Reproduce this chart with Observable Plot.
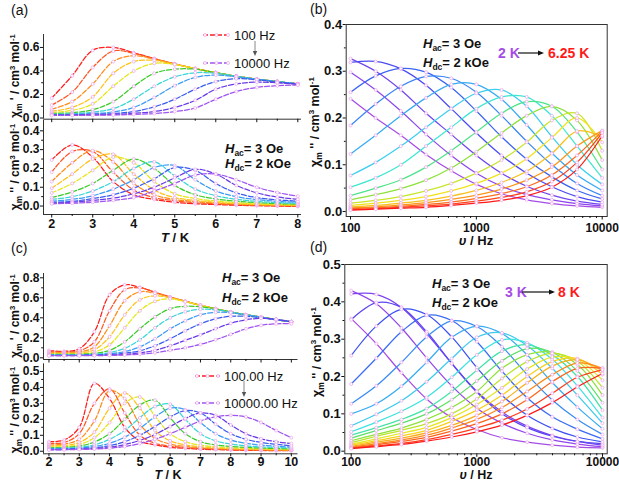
<!DOCTYPE html>
<html><head><meta charset="utf-8">
<script src="https://cdn.jsdelivr.net/npm/d3@7"></script>
<script src="https://cdn.jsdelivr.net/npm/@observablehq/plot@0.6"></script>
<style>
body{margin:0;background:#fff;}
#fig{position:relative;width:619px;height:482px;overflow:hidden;background:#fff;font-family:"Liberation Sans",Arial,sans-serif;}
#fig > div{position:absolute;}
</style></head><body><div id="fig"></div>
<script>
// ---------- DATA ----------
// (a) temperature grid (K) and frequency series
const aT = [2,2.5,3,3.5,4,4.5,5,5.5,6,6.5,7,7.5,8];
const aFreq = ["100 Hz","158 Hz","251 Hz","398 Hz","631 Hz","1000 Hz","1585 Hz","2512 Hz","3981 Hz","6310 Hz","10000 Hz"];
const aChiP = [
 [.17,.36,.575,.60,.555,.505,.46,.42,.385,.355,.33,.31,.29],
 [.11,.22,.43,.57,.55,.505,.46,.42,.385,.355,.33,.31,.29],
 [.075,.14,.29,.48,.53,.50,.46,.42,.385,.355,.33,.31,.29],
 [.058,.09,.18,.38,.48,.49,.455,.42,.385,.355,.33,.31,.29],
 [.047,.065,.12,.27,.40,.465,.455,.42,.385,.355,.33,.31,.29],
 [.038,.045,.07,.14,.27,.38,.415,.415,.385,.355,.33,.31,.29],
 [.032,.036,.05,.08,.16,.27,.35,.385,.38,.355,.33,.31,.29],
 [.028,.031,.038,.052,.09,.175,.275,.345,.365,.35,.33,.31,.29],
 [.026,.027,.032,.038,.055,.095,.16,.245,.31,.335,.325,.305,.29],
 [.024,.025,.027,.031,.04,.055,.09,.15,.245,.29,.305,.30,.285],
 [.022,.023,.024,.026,.03,.038,.055,.085,.16,.225,.26,.275,.28]
];
const aChiPP = [
 [.245,.325,.26,.13,.06,.035,.02,.012,.008,.004,.002,0,-.002],
 [.18,.29,.29,.18,.085,.045,.028,.018,.012,.007,.004,.002,0],
 [.13,.23,.295,.235,.12,.06,.035,.024,.016,.01,.006,.004,.002],
 [.095,.17,.25,.275,.17,.085,.045,.03,.02,.013,.009,.006,.004],
 [.07,.12,.19,.26,.23,.13,.065,.04,.027,.018,.012,.009,.006],
 [.045,.075,.12,.19,.25,.20,.11,.06,.038,.026,.018,.013,.01],
 [.035,.05,.08,.13,.20,.235,.16,.09,.055,.036,.025,.018,.014],
 [.026,.035,.055,.09,.14,.205,.215,.14,.08,.05,.034,.025,.02],
 [.02,.025,.04,.06,.095,.145,.205,.19,.12,.07,.045,.033,.026],
 [.015,.02,.03,.042,.065,.10,.15,.195,.17,.11,.07,.048,.036],
 [.012,.015,.02,.03,.045,.08,.12,.165,.17,.14,.10,.072,.052]
];
// (c) temperature grid (K) and frequency series
const cT = [2,2.5,3,3.5,4,4.5,5,5.5,6,6.5,7,7.5,8,8.5,9,9.5,10];
const cFreq = ["100.00 Hz","158 Hz","251 Hz","398 Hz","631 Hz","1000 Hz","1585 Hz","2512 Hz","3981 Hz","6310 Hz","10000.00 Hz"];
const cChiP = [
 [.073,.065,.09,.26,.63,.73,.705,.655,.607,.565,.525,.49,.458,.43,.407,.382,.36],
 [.062,.058,.07,.16,.47,.68,.70,.655,.607,.565,.525,.49,.458,.43,.407,.382,.36],
 [.052,.05,.057,.11,.32,.57,.66,.645,.605,.565,.525,.49,.458,.43,.407,.382,.36],
 [.045,.044,.048,.08,.21,.43,.58,.62,.60,.562,.525,.49,.458,.43,.407,.382,.36],
 [.04,.039,.042,.058,.13,.30,.47,.565,.59,.56,.525,.49,.458,.43,.407,.382,.36],
 [.035,.034,.036,.045,.075,.16,.29,.41,.49,.515,.51,.49,.458,.43,.407,.382,.36],
 [.03,.03,.031,.036,.052,.095,.18,.30,.40,.46,.485,.48,.458,.43,.407,.382,.36],
 [.027,.027,.028,.031,.04,.062,.11,.19,.29,.37,.43,.455,.45,.43,.407,.382,.36],
 [.025,.025,.025,.027,.032,.045,.07,.12,.19,.27,.34,.39,.415,.415,.40,.38,.36],
 [.023,.023,.023,.024,.027,.034,.05,.075,.12,.175,.23,.29,.345,.38,.395,.385,.36],
 [.021,.021,.021,.022,.024,.028,.036,.05,.075,.1,.135,.18,.235,.29,.325,.34,.34]
];
const cChiPP = [
 [.06,.07,.15,.425,.33,.15,.065,.04,.025,.018,.013,.01,.008,.006,.005,.004,.003],
 [.05,.055,.11,.30,.39,.24,.10,.05,.032,.023,.017,.013,.01,.008,.007,.006,.005],
 [.04,.045,.075,.19,.38,.33,.17,.08,.045,.03,.022,.017,.013,.011,.009,.008,.007],
 [.033,.036,.055,.12,.27,.365,.27,.13,.065,.04,.028,.021,.017,.014,.012,.01,.009],
 [.027,.029,.042,.085,.18,.30,.34,.22,.11,.06,.038,.028,.022,.018,.015,.013,.011],
 [.022,.024,.032,.058,.11,.2,.29,.32,.21,.11,.06,.04,.03,.024,.02,.017,.015],
 [.018,.02,.025,.04,.075,.13,.21,.28,.295,.2,.11,.065,.045,.034,.027,.023,.02],
 [.015,.016,.02,.03,.05,.088,.145,.215,.27,.26,.18,.11,.07,.05,.038,.031,.026],
 [.012,.013,.016,.022,.035,.06,.1,.155,.215,.255,.24,.17,.11,.075,.055,.043,.035],
 [.01,.011,.013,.017,.025,.042,.068,.105,.155,.205,.24,.225,.165,.11,.078,.06,.048],
 [.008,.009,.011,.014,.019,.03,.048,.075,.11,.15,.19,.215,.225,.215,.18,.13,.085]
];
// (b) frequency grid (Hz), temperatures 2 K -> 6.25 K
const bF = [100,158.5,251.2,398.1,631,1000,1585,2512,3981,6310,10000];
const bTemp = ["2 K","2.25 K","2.5 K","2.75 K","3 K","3.25 K","3.5 K","3.75 K","4 K","4.25 K","4.5 K","4.75 K","5 K","5.25 K","5.5 K","5.75 K","6 K","6.25 K"];
const bChiPP = [
 [.241,.2,.163,.122,.087,.058,.038,.025,.017,.012,.009],
 [.298,.26,.215,.165,.12,.082,.054,.036,.025,.017,.012],
 [.327,.30,.26,.21,.165,.12,.082,.054,.035,.022,.015],
 [.319,.321,.305,.27,.22,.168,.12,.082,.053,.032,.02],
 [.255,.29,.306,.298,.265,.215,.16,.112,.074,.045,.027],
 [.184,.23,.268,.289,.285,.255,.205,.15,.1,.06,.034],
 [.123,.163,.205,.243,.272,.272,.24,.185,.125,.078,.045],
 [.077,.105,.14,.18,.22,.253,.26,.225,.16,.1,.058],
 [.052,.072,.1,.14,.18,.22,.245,.245,.205,.14,.072],
 [.034,.05,.068,.095,.13,.17,.21,.235,.225,.17,.09],
 [.025,.036,.049,.067,.093,.128,.168,.205,.225,.195,.11],
 [.018,.024,.032,.044,.06,.082,.11,.148,.195,.21,.13],
 [.013,.018,.024,.032,.044,.06,.082,.113,.158,.2,.148],
 [.01,.013,.018,.024,.033,.045,.062,.086,.124,.172,.16],
 [.008,.01,.014,.019,.026,.035,.048,.067,.095,.14,.173],
 [.006,.008,.011,.015,.02,.028,.038,.053,.078,.12,.172],
 [.004,.006,.009,.012,.016,.022,.03,.042,.064,.105,.168],
 [.003,.005,.007,.009,.013,.018,.024,.034,.052,.09,.162]
];
// (d) frequency grid (Hz), temperatures 3 K -> 8 K
const dF = [100,158.5,251.2,398.1,631,1000,1585,2512,3981,6310,10000];
const dTemp = ["3 K","3.25 K","3.5 K","3.75 K","4 K","4.25 K","4.5 K","4.75 K","5 K","5.25 K","5.5 K","5.75 K","6 K","6.25 K","6.5 K","6.75 K","7 K","7.25 K","7.5 K","7.75 K","8 K"];
const dChiPP = [
 [.355,.288,.21,.14,.09,.058,.036,.024,.016,.011,.009],
 [.43,.395,.33,.25,.175,.115,.075,.048,.03,.019,.012],
 [.421,.42,.385,.315,.235,.16,.105,.067,.042,.026,.016],
 [.352,.398,.385,.32,.235,.158,.1,.063,.04,.026,.02],
 [.256,.335,.38,.366,.306,.224,.15,.096,.061,.038,.025],
 [.18,.249,.32,.364,.35,.293,.214,.143,.092,.059,.033],
 [.127,.175,.238,.306,.349,.334,.28,.205,.137,.085,.045],
 [.1,.127,.174,.238,.305,.335,.315,.258,.184,.118,.06],
 [.068,.099,.135,.186,.248,.305,.317,.283,.222,.15,.075],
 [.052,.078,.107,.144,.198,.258,.298,.29,.246,.175,.09],
 [.043,.063,.085,.114,.16,.217,.268,.285,.258,.2,.11],
 [.035,.055,.075,.1,.138,.188,.242,.275,.265,.215,.13],
 [.028,.045,.062,.085,.117,.16,.222,.258,.265,.232,.15],
 [.023,.04,.056,.074,.1,.14,.195,.24,.262,.241,.17],
 [.019,.033,.048,.064,.09,.125,.17,.22,.252,.245,.19],
 [.016,.028,.041,.056,.08,.11,.15,.2,.24,.248,.205],
 [.013,.024,.035,.049,.069,.096,.133,.183,.228,.245,.215],
 [.011,.02,.03,.043,.062,.085,.117,.16,.205,.236,.222],
 [.009,.017,.026,.037,.054,.074,.1,.138,.186,.222,.222],
 [.008,.014,.021,.031,.045,.062,.083,.113,.155,.198,.218],
 [.007,.012,.018,.027,.038,.052,.07,.096,.13,.172,.208]
];
// tick values
const aTTicks = [2,3,4,5,6,7,8], aTMinor = [2.5,3.5,4.5,5.5,6.5,7.5];
const cTTicks = [2,3,4,5,6,7,8,9,10], cTMinor = [2.5,3.5,4.5,5.5,6.5,7.5,8.5,9.5];
const fTicks = [100,1000,10000], fMinor = [200,300,400,500,600,700,800,900,2000,3000,4000,5000,6000,7000,8000,9000];

// ---------- STYLE ----------
const pal11 = ["#ff1c1c","#ff5522","#ff8c1a","#ffc21a","#e6e61a","#3ccc2a","#3ad6d6","#3a9cf5","#3a5cf0","#6a3ce8","#a054f0"];
const pal18 = ["#a64ce6","#8d47ec","#7044f0","#4a4cf2","#3a64f2","#3a86f4","#38aaf2","#3ccfee","#3ee6d2","#50e48a","#8ee23a","#c8e62a","#f2e21e","#f8c01c","#fa981c","#fc6e1e","#fd441e","#ff1a1a"];
const pal21 = ["#a64ce6","#9448ea","#7c44ee","#5a46f2","#3c52f2","#3a6cf4","#3a8cf4","#38acf2","#3ccaee","#3ee2e0","#44e4a8","#5ce064","#8ee23a","#bce42c","#e6e622","#f8d01c","#faae1c","#fb8a1c","#fc641e","#fd3e1e","#ff1a1a"];
const AX = "#333", MARK = "#eaa2ea", FONT = "'Liberation Sans', Arial, sans-serif";

function rows(xs, matrix, names) {
  return matrix.flatMap((vals, i) => vals.map((v, j) => ({x: xs[j], y: v, s: names[i]})));
}

const fig = document.getElementById("fig");

function panel(o) {
  const marks = [];
  if (o.box) marks.push(Plot.frame({stroke: AX, strokeWidth: 1}));
  else {
    marks.push(Plot.ruleX([o.xDomain[0]], {stroke: AX, strokeWidth: 1}));
    marks.push(Plot.ruleY([o.yDomain[0]], {stroke: AX, strokeWidth: 1}));
  }
  marks.push(Plot.line(o.data, {x: "x", y: "y", z: "s", stroke: "s", strokeWidth: 1.25, curve: "catmull-rom", strokeDasharray: o.dash, clip: true}));
  marks.push(Plot.dot(o.data, {x: "x", y: "y", r: 1.5, fill: "white", stroke: MARK, strokeWidth: 0.7, clip: true}));
  marks.push(Plot.axisY({ticks: o.yTicks, tickFormat: d3.format(".1f"), tickSize: 3, tickPadding: 1, fontSize: o.yFs, fontWeight: "bold", label: null}));
  marks.push(Plot.axisY({ticks: o.yMinor, tickFormat: () => "", tickSize: 1.8, label: null}));
  marks.push(Plot.axisX({ticks: o.xTicks, tickFormat: o.xLabels ? (d => String(d)) : (() => ""), tickSize: o.xTick ?? 3.5, tickPadding: o.xPad ?? 2, fontSize: o.xFs, fontWeight: "bold", label: null}));
  marks.push(Plot.axisX({ticks: o.xMinor, tickFormat: () => "", tickSize: 2, label: null}));
  const svg = Plot.plot({
    width: o.w, height: o.h,
    marginLeft: o.m[0], marginRight: o.m[1], marginTop: o.m[2], marginBottom: o.m[3],
    x: {type: o.xType || "linear", domain: o.xDomain, axis: null},
    y: {domain: o.yDomain, axis: null},
    color: {type: "ordinal", domain: o.names, range: o.colors},
    style: {background: "transparent", overflow: "visible", fontFamily: FONT, color: "#111"},
    marks
  });
  const div = document.createElement("div");
  div.style.left = o.left + "px"; div.style.top = o.top + "px";
  div.appendChild(svg);
  fig.appendChild(div);
}

// (a)
panel({left: 0, top: 0, w: 305, h: 122, m: [43, 4, 34, 3.3], xDomain: [1.8, 8.09], yDomain: [-0.01, 0.71],
  data: rows(aT, aChiP, aFreq), names: aFreq, colors: pal11, dash: "5,2", xFs: 12.5, yFs: 12,
  xTicks: aTTicks, xMinor: aTMinor, xLabels: false, yTicks: [0, .2, .4, .6], yMinor: [.1, .3, .5]});
panel({left: 0, top: 118, w: 305, h: 118, m: [43, 4, 2, 22], xDomain: [1.8, 8.09], yDomain: [-0.045, 0.455],
  data: rows(aT, aChiPP, aFreq), names: aFreq, colors: pal11, dash: "5,2", xFs: 12.5, yFs: 12,
  xTicks: aTTicks, xMinor: aTMinor, xLabels: true, xPad: 1.5, yTicks: [0, .1, .2, .3, .4], yMinor: [.05, .15, .25, .35]});
// (c)
panel({left: 0, top: 260, w: 305, h: 102, m: [43, 7.5, 13, 3], xDomain: [1.82, 10.22], yDomain: [-0.017, 0.843],
  data: rows(cT, cChiP, cFreq), names: cFreq, colors: pal11, dash: "5,2", xFs: 12.5, yFs: 12,
  xTicks: cTTicks, xMinor: cTMinor, xLabels: false, yTicks: [0, .2, .4, .6, .8], yMinor: [.1, .3, .5, .7]});
panel({left: 0, top: 360, w: 305, h: 118, m: [43, 7.5, 3.3, 24.7], xDomain: [1.82, 10.22], yDomain: [-0.016, 0.548],
  data: rows(cT, cChiPP, cFreq), names: cFreq, colors: pal11, dash: "5,2", xFs: 12.5, yFs: 12,
  xTicks: cTTicks, xMinor: cTMinor, xLabels: true, xTick: 3, xPad: 0, yTicks: [0, .1, .2, .3, .4, .5], yMinor: [.05, .15, .25, .35, .45]});
// (b)
panel({left: 300, top: 10, w: 319, h: 230, m: [45.7, 12.3, 14, 24], xType: "log", xDomain: [92.4, 10958], yDomain: [-0.0107, 0.4],
  data: rows(bF, bChiPP, bTemp), names: bTemp, colors: pal18, box: true, xFs: 12, yFs: 13,
  xTicks: fTicks, xMinor: fMinor, xLabels: true, xPad: 3, yTicks: [0, .1, .2, .3, .4], yMinor: [.05, .15, .25, .35]});
// (d)
panel({left: 300, top: 250, w: 319, h: 230, m: [44.3, 12.3, 14, 26.7], xType: "log", xDomain: [88.95, 10900], yDomain: [-0.007, 0.5],
  data: rows(dF, dChiPP, dTemp), names: dTemp, colors: pal21, box: true, xFs: 12, yFs: 13,
  xTicks: fTicks, xMinor: fMinor, xLabels: true, xPad: 0.5, yTicks: [0, .1, .2, .3, .4, .5], yMinor: [.05, .15, .25, .35, .45]});

// ---------- ANNOTATIONS ----------
const ovDiv = document.createElement("div");
ovDiv.style.left = "0px"; ovDiv.style.top = "0px"; ovDiv.style.pointerEvents = "none";
fig.appendChild(ovDiv);
const ov = d3.select(ovDiv).append("svg").attr("width", 619).attr("height", 482)
  .style("font-family", FONT).style("overflow", "visible");

function label(x, y, t) { ov.append("text").attr("x", x).attr("y", y).attr("font-size", 14).attr("fill", "#111").text(t); }
label(11, 15, "(a)"); label(310, 14, "(b)"); label(11, 253, "(c)"); label(310, 252, "(d)");

function yTitle(cx, cy, primes, fs) {
  const t = ov.append("text").attr("transform", `translate(${cx + fs * 0.36},${cy}) rotate(-90)`)
    .attr("text-anchor", "middle").attr("font-size", fs).attr("font-weight", "bold").attr("fill", "#111");
  t.append("tspan").text("χ");
  t.append("tspan").attr("font-size", fs * 0.68).attr("dy", 3).text("m");
  t.append("tspan").attr("dy", -3).text(primes + " / cm");
  t.append("tspan").attr("font-size", fs * 0.64).attr("dy", -4.5).text("3");
  t.append("tspan").attr("dy", 4.5).text(" mol");
  t.append("tspan").attr("font-size", fs * 0.64).attr("dy", -4.5).text("-1");
}
yTitle(15, 76, " '", 12); yTitle(15, 167, " ''", 12);
yTitle(15, 316, " '", 12); yTitle(15, 410, " ''", 12);
yTitle(314, 122, " ''", 12.5); yTitle(316, 352, " ''", 12.5);

function xTitle(cx, y, sym, unit, fs) {
  const t = ov.append("text").attr("x", cx).attr("y", y).attr("text-anchor", "middle")
    .attr("font-size", fs).attr("font-weight", "bold").attr("fill", "#111");
  t.append("tspan").attr("font-style", "italic").text(sym);
  t.append("tspan").text(" / " + unit);
}
xTitle(175, 242, "T", "K", 13); xTitle(168, 479.3, "T", "K", 12.5);
xTitle(476, 245, "υ", "Hz", 13); xTitle(476, 479, "υ", "Hz", 12.5);

function hText(x, y, sub, rest) {
  const t = ov.append("text").attr("x", x).attr("y", y).attr("font-size", 13).attr("font-weight", "bold").attr("fill", "#111");
  t.append("tspan").attr("font-style", "italic").text("H");
  t.append("tspan").attr("font-size", 8.5).attr("dy", 3).text(sub);
  t.append("tspan").attr("dy", -3).text(rest);
}
function hPair(x, y1, y2) { hText(x, y1, "ac", "= 3 Oe"); hText(x, y2, "dc", "= 2 kOe"); }
hPair(225, 153, 167.5); hPair(423, 47.5, 66.5); hPair(222, 281.5, 301.5); hPair(432, 287.5, 306.5);

function legendLine(x1, x2, y, color, txt) {
  ov.append("line").attr("x1", x1).attr("x2", x2).attr("y1", y).attr("y2", y)
    .attr("stroke", color).attr("stroke-width", 1.4).attr("stroke-dasharray", "5,2");
  [x1 + 2, (x1 + x2) / 2, x2 - 2].forEach(cx => ov.append("circle").attr("cx", cx).attr("cy", y).attr("r", 1.5)
    .attr("fill", "white").attr("stroke", MARK).attr("stroke-width", 0.7));
  ov.append("text").attr("x", x2 + 4).attr("y", y + 4.5).attr("font-size", 13).attr("fill", "#111").text(txt);
}
function vArrow(x, y1, y2) {
  ov.append("line").attr("x1", x).attr("x2", x).attr("y1", y1).attr("y2", y2 - 4).attr("stroke", "#888").attr("stroke-width", 1);
  ov.append("path").attr("d", `M${x - 2.2},${y2 - 5}L${x + 2.2},${y2 - 5}L${x},${y2}Z`).attr("fill", "#555");
}
legendLine(203, 230, 35, pal11[0], aFreq[0]);
vArrow(255, 41, 56);
legendLine(203, 230, 63, pal11[10], aFreq[10]);
legendLine(195, 220, 376, pal11[0], cFreq[0]);
vArrow(244, 381, 397);
legendLine(195, 220, 403, pal11[10], cFreq[10]);

function tempRange(x, y, t1, t2, x2, ax1, ax2) {
  ov.append("text").attr("x", x).attr("y", y + 5).attr("font-size", 14).attr("font-weight", "bold").attr("fill", pal18[0]).text(t1);
  ov.append("line").attr("x1", ax1).attr("x2", ax2 - 5).attr("y1", y).attr("y2", y).attr("stroke", "#111").attr("stroke-width", 1.2);
  ov.append("path").attr("d", `M${ax2 - 6},${y - 2.6}L${ax2 - 6},${y + 2.6}L${ax2},${y}Z`).attr("fill", "#111");
  ov.append("text").attr("x", x2).attr("y", y + 5).attr("font-size", 14).attr("font-weight", "bold").attr("fill", pal18[17]).text(t2);
}
tempRange(498, 53, bTemp[0], bTemp[17], 548, 518, 544);
tempRange(505, 292, dTemp[0], dTemp[20], 558, 522, 555);
</script></body></html>
